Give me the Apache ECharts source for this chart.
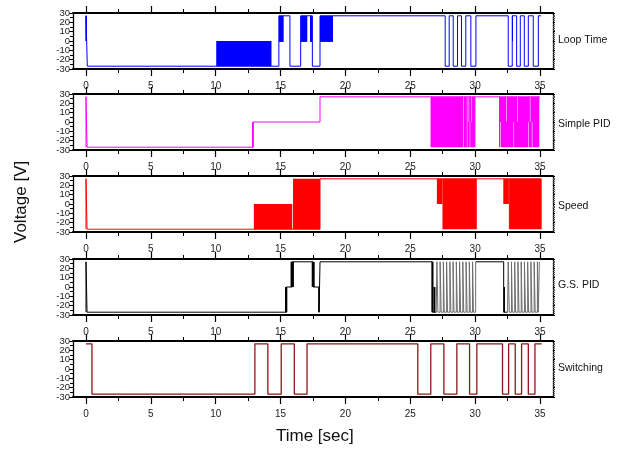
<!DOCTYPE html>
<html>
<head>
<meta charset="utf-8">
<script src="https://cdn.jsdelivr.net/npm/echarts@6/dist/echarts.min.js"></script>
<style>
html,body{margin:0;padding:0;background:#fff;}
#chart{width:621px;height:451px;}
</style>
</head>
<body>
<div id="chart"></div>
<script>
// ---------- DATA ----------
const xTicks = [0, 35, 5];            // x min, max, step
const yTicks = [-30, 30, 10];         // y min, max, step
const yLabelsA = [-20, 0, 20];        // y tick labels (two interleaved sets so none is dropped)
const yLabelsB = [-30, -10, 10, 30];
const panelNames = ['Loop Time', 'Simple PID', 'Speed', 'G.S. PID', 'Switching'];

// step lines: [time, value the signal switches to at that time]
const loopLine = [[0,0],[0,27],[0.1,-27],[14.87,27],[15.72,-27],[16.55,27],[17.45,-27],[18.04,27],
  [27.69,-27],[28.0,27],[28.31,-27],[28.64,27],[28.95,-27],[29.28,27],[29.67,-27],[30.06,27],
  [32.55,-27],[32.86,27],[33.2,-27],[33.48,27],[33.79,-27],[34.1,27],[34.48,-27],[34.87,27],[35.07,27]];
// dense switching areas: [t0, t1, vLow, vHigh]
const loopBlocks = [[-0.03,0.07,0,27],[10.04,14.3,-27,0],[14.87,15.24,-1,27],[16.55,17.06,-1,27],
  [17.27,17.45,-1,27],[18.04,19.04,-1,27],[32.84,32.9,0,27]];

const simpleLine = [[0,-27],[0,27],[0.08,-27],[12.87,0],[18.04,27],[35.0,27]];
const simpleBlocks = [[12.8,12.93,-27,0],[26.56,29.1,-27,27],[29.14,29.36,-27,27],[29.4,29.5,0,27],
  [29.4,29.58,-27,0],[29.54,29.72,0,27],[29.62,29.8,-27,0],[29.76,30.02,-27,27],
  [31.84,32.38,0,27],[32.42,33.23,0,27],[33.27,34.22,0,27],[34.26,34.95,0,27],
  [31.84,31.94,-27,0],[31.98,32.96,-27,0],[33.0,34.11,-27,0],[34.15,34.37,-27,0],[34.41,34.95,-27,0]];

const speedLine = [[0,-27],[0,27],[0.08,-27],[18.04,27],[35.1,27]];
const speedBlocks = [[12.94,15.9,-27,0],[15.96,18.04,-27,27],[27.05,27.48,0,27],[27.48,30.13,-27,27],
  [32.17,32.6,0,27],[32.68,35.13,-27,27],[32.6,32.68,-27,27]];

const gsLineA = [[0,-27],[0,27],[0.08,-27],[15.45,0],[15.9,27],[17.5,0],[17.97,-27],[18.04,27],[26.7,-27],[27.0,-27]];
const gsLineB = [[30.04,27],[32.2,-27],[32.5,-27]];
const gsBlocks = [[15.34,15.52,-27,0],[15.77,16.03,0,27],[17.4,17.63,0,27],[17.9,18.0,-27,0],
  [26.63,26.79,-27,27],[26.79,26.94,-27,0],[32.2,32.3,-27,0]];
const gsGray1 = [[27.0,-27],[27.05,27],[27.13,-27],[27.3,27],[27.38,-27],[27.55,27],[27.62,-27],[27.8,27],
  [27.87,-27],[28.05,27],[28.13,-27],[28.3,27],[28.37,-27],[28.55,27],[28.63,-27],[28.8,27],[28.88,-27],
  [29.05,27],[29.12,-27],[29.3,27],[29.38,-27],[29.55,27],[29.63,-27],[29.8,27],[29.87,-27],[30.04,27]];
const gsGray2 = [[32.5,-27],[32.55,27],[32.63,-27],[32.8,27],[32.87,-27],[33.05,27],[33.12,-27],[33.3,27],
  [33.38,-27],[33.55,27],[33.62,-27],[33.8,27],[33.88,-27],[34.05,27],[34.12,-27],[34.3,27],[34.38,-27],
  [34.55,27],[34.63,-27],[34.8,27],[34.87,-27],[34.95,27]];

const switchLine = [[0,27],[0.46,-27],[13.02,27],[14.02,-27],[15.05,27],[16.06,-27],[17.04,27],[25.58,-27],
  [26.58,27],[27.59,-27],[28.59,27],[29.57,-27],[30.13,27],[32.11,-27],[32.58,27],[33.09,-27],[33.58,27],
  [34.1,-27],[34.61,27],[35.13,27]];

// ---------- LAYOUT / STYLE ----------
const FONT = '"Liberation Sans", Arial, sans-serif';
const panelTops = [13, 94, 176, 259, 341];
const panelH = 56;
const frameLeft = 73, frameWidth = 480;
const dataLeft = 86, dataWidth = 454;
const labelY = [42, 126, 208, 287, 370];

const grid = [], xAxis = [], yAxis = [], series = [], graphic = [];

panelTops.forEach((top, p) => {
  grid.push({left: frameLeft, top: top, width: frameWidth, height: panelH, show: false});
  grid.push({left: dataLeft, top: top, width: dataWidth, height: panelH, show: false});
  const fg = 2*p, dg = 2*p+1;
  ['bottom','top'].forEach(pos => xAxis.push({
    type:'value', gridIndex: fg, position: pos, min:0, max:1,
    axisLine:{show:true, onZero:false, lineStyle:{color:'#000', width:2}},
    axisTick:{show:false}, axisLabel:{show:false}, splitLine:{show:false}
  }));
  ['bottom','top'].forEach(pos => xAxis.push({
    type:'value', gridIndex: dg, position: pos, min: xTicks[0], max: xTicks[1], interval: xTicks[2],
    axisLine:{show:false, onZero:false},
    axisTick:{show:true, inside:false, length:7, lineStyle:{color:'#000', width:1.2}},
    minorTick:{show:true, splitNumber:2, length:4, lineStyle:{color:'#000', width:1}},
    axisLabel:{show: pos==='bottom', margin:12, fontSize:10, color:'#222', fontFamily:FONT,
      showMinLabel:true, showMaxLabel:true},
    splitLine:{show:false}
  }));
  // frame y left: line, ticks, first label set
  yAxis.push({
    type:'value', gridIndex: fg, position:'left', min: yTicks[0], max: yTicks[1], interval: yTicks[2],
    axisLine:{show:true, onZero:false, lineStyle:{color:'#000', width:1.3}},
    axisTick:{show:true, inside:false, length:4, lineStyle:{color:'#000'}},
    minorTick:{show:true, splitNumber:2, length:3, lineStyle:{color:'#000'}},
    axisLabel:{margin:3, fontSize:9.5, color:'#222', fontFamily:FONT, customValues: yLabelsA},
    splitLine:{show:false}
  });
  // frame y left: second label set
  yAxis.push({
    type:'value', gridIndex: fg, position:'left', min: yTicks[0], max: yTicks[1], interval: yTicks[2],
    axisLine:{show:false, onZero:false}, axisTick:{show:false}, minorTick:{show:false},
    axisLabel:{margin:3, fontSize:9.5, color:'#222', fontFamily:FONT, customValues: yLabelsB},
    splitLine:{show:false}
  });
  // frame y right
  yAxis.push({
    type:'value', gridIndex: fg, position:'right', min: yTicks[0], max: yTicks[1], interval: yTicks[2],
    axisLine:{show:true, onZero:false, lineStyle:{color:'#000', width:1.3}},
    axisTick:{show:true, inside:false, length:2, lineStyle:{color:'#000'}},
    minorTick:{show:true, splitNumber:5, length:2, lineStyle:{color:'#555'}},
    axisLabel:{show:false}, splitLine:{show:false}
  });
  yAxis.push({type:'value', gridIndex: dg, min: yTicks[0], max: yTicks[1], show:false});

  graphic.push({type:'text', left: 558, top: labelY[p] - 7,
    style:{text: panelNames[p], font: '10.5px ' + FONT, fill:'#111'}});
});

function lineSeries(p, data, color, width) {
  return {type:'line', xAxisIndex: 4*p+2, yAxisIndex: 4*p+3, data: data, step:'end',
    showSymbol:false, symbol:'none', clip:false, animation:false, z:3,
    lineStyle:{color: color, width: width || 1}};
}
function blockSeries(p, data, color) {
  return {type:'custom', xAxisIndex: 4*p+2, yAxisIndex: 4*p+3, data: data, clip:false, animation:false, z:2,
    encode:{x:[0,1], y:[2,3]},
    renderItem: function(params, api) {
      const a = api.coord([api.value(0), api.value(3)]);
      const b = api.coord([api.value(1), api.value(2)]);
      return {type:'rect', shape:{x:a[0], y:a[1], width:Math.max(b[0]-a[0], 1), height:b[1]-a[1]},
        style:{fill: color}};
    }};
}

series.push(lineSeries(0, loopLine, '#0000ff', 1));
series.push(blockSeries(0, loopBlocks, '#0000ff'));
series.push(lineSeries(1, simpleLine, '#ff00ff', 1));
series.push(blockSeries(1, simpleBlocks, '#ff00ff'));
series.push(lineSeries(2, speedLine, '#ff0000', 1));
series.push(blockSeries(2, speedBlocks, '#ff0000'));
series.push(lineSeries(3, gsLineA, '#000000', 1));
series.push(lineSeries(3, gsLineB, '#000000', 1));
series.push(blockSeries(3, gsBlocks, '#000000'));
series.push(lineSeries(3, gsGray1, '#6e6e6e', 1));
series.push(lineSeries(3, gsGray2, '#6e6e6e', 1));
series.push(lineSeries(4, switchLine, '#8b1a1a', 1.3));

graphic.push({type:'text', left: 276, top: 428, style:{text:'Time [sec]', font:'17px ' + FONT, fill:'#111'}});
graphic.push({type:'text', x: 13, y: 243, rotation: Math.PI/2,
  style:{text:'Voltage [V]', font:'17px ' + FONT, fill:'#111'}});

const chart = echarts.init(document.getElementById('chart'), null, {renderer:'canvas'});
chart.setOption({animation:false, backgroundColor:'#fff', grid, xAxis, yAxis, series, graphic});
</script>
</body>
</html>
